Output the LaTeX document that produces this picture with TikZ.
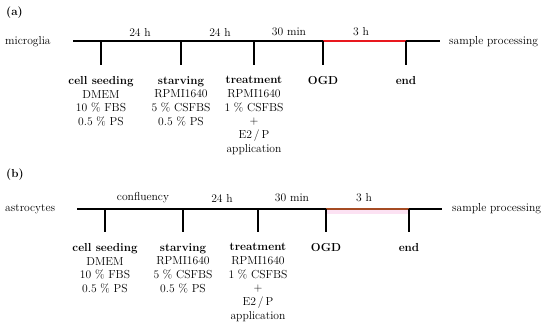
\documentclass[tikz,border=0pt]{standalone}
\usetikzlibrary{positioning}
\definecolor{ogdred}{RGB}{232,24,30}
\definecolor{ogdbrown}{RGB}{165,75,35}
\definecolor{ogdpink}{RGB}{252,226,243}
\tikzset{
    timeline diagram/.style = {x=1pt, y=-1pt,
                               font=\fontsize{11.6}{13.8}\selectfont},
    time axis/.style        = {line width=1.7pt},
    tickmark/.style         = {line width=1.7pt, shorten >=10.5pt},
    panel label/.style      = {anchor=west, inner sep=0pt,
                               font=\fontsize{11.6}{13.8}\selectfont\bfseries},
    cell name/.style        = {anchor=west, inner sep=0pt},
    period/.style           = {inner sep=0pt},
    stage text/.style       = {anchor=north, align=center, inner sep=0pt}
}
\def\rowa{41}
\def\rowb{209}
\def\stagea{76}
\def\stageb{243}

\begin{document}
\begin{tikzpicture}[timeline diagram]
\useasboundingbox (0,0) rectangle (550,328);

% (a) microglia time course, OGD interval in red.
\node[panel label] (labelA) at (6,13) {(a)};
\node[cell name] (microglia) at (5,42) {microglia};
\node[cell name] (processA) at (449,42) {sample processing};
\coordinate (startA) at (73,\rowa);
\coordinate (endA) at (440,\rowa);
\coordinate (seedTickA) at (101,\rowa);
\coordinate (starveTickA) at (181,\rowa);
\coordinate (treatTickA) at (254,\rowa);
\coordinate (ogdTickA) at (323,\rowa);
\coordinate (endTickA) at (406,\rowa);
\node[period] (firstDayA) at (140,32) {24 h};
\node[period] (secondDayA) at (220,32) {24 h};
\node[period] (preA) at (289,32) {30 min};
\node[period] (ogdTimeA) at (361,32) {3 h};
\node[stage text] (seedA) at (101,\stagea)
    {\textbf{cell seeding}\\DMEM\\10 \% FBS\\0.5 \% PS};
\node[stage text] (starveA) at (181,\stagea)
    {\textbf{starving}\\RPMI1640\\5 \% CSFBS\\0.5 \% PS};
\node[stage text] (treatA) at (254,\stagea)
    {\textbf{treatment}\\RPMI1640\\1 \% CSFBS\\+\\E2\,/\,P\\application};
\node[stage text] (ogdA) at (323,\stagea) {\textbf{OGD}};
\node[stage text] (finishA) at (406,\stagea) {\textbf{end}};
\draw[time axis] (startA) -- (endA);
\draw[time axis, ogdred] (ogdTickA) -- (endTickA);
\draw[tickmark] (seedTickA) -- (seedA.north);
\draw[tickmark] (starveTickA) -- (starveA.north);
\draw[tickmark] (treatTickA) -- (treatA.north);
\draw[tickmark] (ogdTickA) -- (ogdA.north);
\draw[tickmark] (endTickA) -- (finishA.north);

% (b) astrocytes, same protocol after confluency.
\node[panel label] (labelB) at (6,175) {(b)};
\node[cell name] (astrocytes) at (5,209) {astrocytes};
\node[cell name] (processB) at (452,209) {sample processing};
\coordinate (startB) at (77,\rowb);
\coordinate (endB) at (442,\rowb);
\coordinate (seedTickB) at (105,\rowb);
\coordinate (starveTickB) at (183,\rowb);
\coordinate (treatTickB) at (258,\rowb);
\coordinate (ogdTickB) at (326,\rowb);
\coordinate (endTickB) at (409,\rowb);
\coordinate (bandB) at (409,214);
\node[period] (confluency) at (143,198) {confluency};
\node[period] (dayB) at (222,198) {24 h};
\node[period] (preB) at (292,198) {30 min};
\node[period] (ogdTimeB) at (364,198) {3 h};
\node[stage text] (seedB) at (105,\stageb)
    {\textbf{cell seeding}\\DMEM\\10 \% FBS\\0.5 \% PS};
\node[stage text] (starveB) at (183,\stageb)
    {\textbf{starving}\\RPMI1640\\5 \% CSFBS\\0.5 \% PS};
\node[stage text] (treatB) at (258,\stageb)
    {\textbf{treatment}\\RPMI1640\\1 \% CSFBS\\+\\E2\,/\,P\\application};
\node[stage text] (ogdB) at (326,\stageb) {\textbf{OGD}};
\node[stage text] (finishB) at (409,\stageb) {\textbf{end}};
\fill[ogdpink] (ogdTickB) rectangle (bandB);
\draw[time axis] (startB) -- (endB);
\draw[time axis, ogdbrown] (ogdTickB) -- (endTickB);
\draw[tickmark] (seedTickB) -- (seedB.north);
\draw[tickmark] (starveTickB) -- (starveB.north);
\draw[tickmark] (treatTickB) -- (treatB.north);
\draw[tickmark] (ogdTickB) -- (ogdB.north);
\draw[tickmark] (endTickB) -- (finishB.north);

\end{tikzpicture}
\end{document}
